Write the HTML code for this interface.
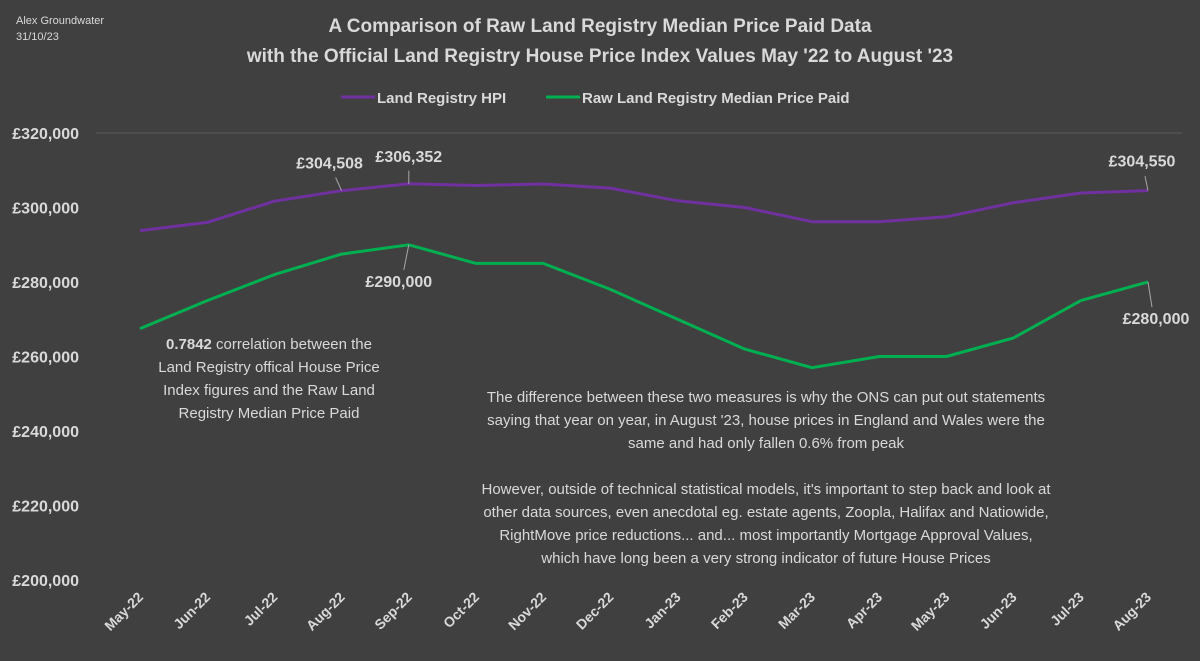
<!DOCTYPE html>
<html><head><meta charset="utf-8"><style>
body{margin:0;background:#404040;}
svg text{font-family:"Liberation Sans",sans-serif;fill:#d9d9d9;}
</style></head><body>
<svg width="1200" height="656" viewBox="0 0 1200 656">
<rect width="1200" height="656" fill="#404040"/>
<text x="16" y="24" font-size="11" fill="#bfbfbf">Alex Groundwater</text>
<text x="16" y="40" font-size="11" fill="#bfbfbf">31/10/23</text>
<text x="600" y="32" font-size="19" font-weight="bold" text-anchor="middle">A Comparison of Raw Land Registry Median Price Paid Data</text>
<text x="600" y="62" font-size="19" font-weight="bold" text-anchor="middle">with the Official Land Registry House Price Index Values May '22 to August '23</text>
<g>
<line x1="341" y1="97" x2="375" y2="97" stroke="#7030a0" stroke-width="3"/>
<text x="377" y="103" font-size="15" font-weight="bold">Land Registry HPI</text>
<line x1="546" y1="97" x2="580" y2="97" stroke="#00b050" stroke-width="3"/>
<text x="582" y="103" font-size="15" font-weight="bold">Raw Land Registry Median Price Paid</text>
</g>
<g id="axes"></g>
<g id="marks"></g>
<g font-size="15" text-anchor="middle">
<text x="269" y="349"><tspan font-weight="bold">0.7842</tspan> correlation between the</text>
<text x="269" y="372">Land Registry offical House Price</text>
<text x="269" y="395">Index figures and the Raw Land</text>
<text x="269" y="418">Registry Median Price Paid</text>
</g>
<g font-size="15" text-anchor="middle">
<text x="766" y="402">The difference between these two measures is why the ONS can put out statements</text>
<text x="766" y="425">saying that year on year, in August '23, house prices in England and Wales were the</text>
<text x="766" y="448">same and had only fallen 0.6% from peak</text>
<text x="766" y="494">However, outside of technical statistical models, it's important to step back and look at</text>
<text x="766" y="517">other data sources, even anecdotal eg. estate agents, Zoopla, Halifax and Natiowide,</text>
<text x="766" y="540">RightMove price reductions... and... most importantly Mortgage Approval Values,</text>
<text x="766" y="563">which have long been a very strong indicator of future House Prices</text>
</g>
</svg>
<script>
const categories=["May-22","Jun-22","Jul-22","Aug-22","Sep-22","Oct-22","Nov-22","Dec-22","Jan-23","Feb-23","Mar-23","Apr-23","May-23","Jun-23","Jul-23","Aug-23"];
const hpiValues=[293800,296000,301700,304508,306352,305900,306300,305200,301800,300000,296200,296200,297500,301300,303900,304550];
const rawValues=[267500,275000,282000,287500,290000,285000,285000,278000,270000,262000,257000,260000,260000,265000,275000,280000];
const yTicks=[200000,220000,240000,260000,280000,300000,320000];
const NS="http://www.w3.org/2000/svg";
const x=i=>140+i*67.2;
const y=v=>133+(320000-v)*447/120000;
function mk(tag,at,parent){const e=document.createElementNS(NS,tag);for(const k in at)e.setAttribute(k,at[k]);parent.appendChild(e);return e;}
const axes=document.getElementById('axes'),marks=document.getElementById('marks');
const grid=mk('line',{x1:96,x2:1182,y1:y(320000),y2:y(320000),stroke:'#5a5a5a','stroke-width':1},axes);


yTicks.forEach(t=>{const tx=mk('text',{x:79,y:y(t)+6,'font-size':16,'font-weight':'bold','text-anchor':'end'},axes);
tx.textContent='£'+t.toLocaleString('en-GB');

});
categories.forEach((c,i)=>{const tx=mk('text',{x:x(i)+4,y:598,'font-size':14,'font-weight':'bold','text-anchor':'end',transform:`rotate(-45 ${x(i)+4} 598)`},axes);
tx.textContent=c;

});
function line(vals,col,name){const d=vals.map((v,i)=>(i?'L':'M')+x(i).toFixed(1)+' '+y(v).toFixed(1)).join(' ');
const p=mk('path',{d,fill:'none',stroke:col,'stroke-width':3,'stroke-linejoin':'round'},marks);

}
line(hpiValues,'#7030a0','hpi-line');
line(rawValues,'#00b050','raw-median-line');
function label(i,vals,dx,dy,anchor){const v=vals[i];const px=x(i),py=y(v);
const ln=mk('line',{x1:px,y1:py,x2:px+dx*0.5,y2:py+dy*0.6,stroke:'#a6a6a6','stroke-width':1},marks);


const t=mk('text',{x:px+dx,y:py+dy,'font-size':16,'font-weight':'bold','text-anchor':anchor},marks);
t.textContent='£'+v.toLocaleString('en-GB');

}
label(3,hpiValues,-12,-22,'middle');
label(4,hpiValues,0,-22,'middle');
label(15,hpiValues,-6,-24,'middle');
label(4,rawValues,-10,42,'middle');
label(15,rawValues,8,42,'middle');
</script>
</body></html>
